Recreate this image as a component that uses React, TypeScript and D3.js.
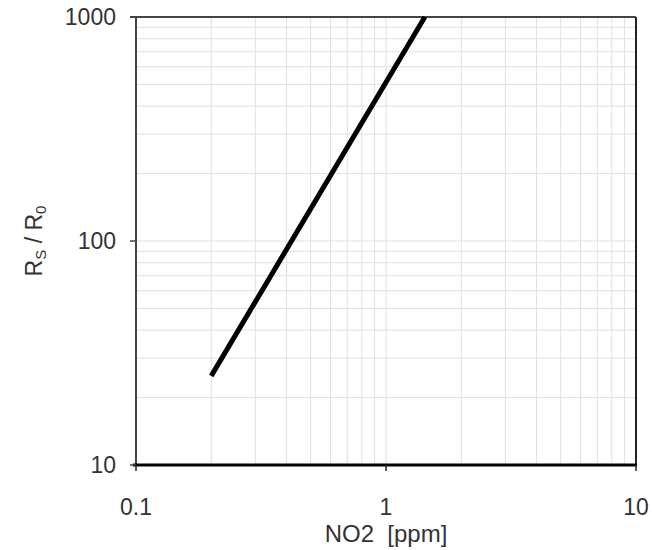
import React from "react";
import * as d3 from "d3";

const concentration = [0.2, 1.43];
const ratio = [25, 1000];
const xTickValues = [0.1, 1, 10];
const xTickLabels = ["0.1", "1", "10"];
const yTickValues = [10, 100, 1000];
const yTickLabels = ["10", "100", "1000"];

const W = 652, H = 550;
const M = { left: 136, right: 16, top: 17, bottom: 85 };

export default function App() {
  const x = d3.scaleLog().domain([0.1, 10]).range([M.left, W - M.right]);
  const y = d3.scaleLog().domain([10, 1000]).range([H - M.bottom, M.top]);
  const xMinor: number[] = [];
  const yMinor: number[] = [];
  [0.1, 1].forEach((d) => { for (let k = 2; k <= 9; k++) xMinor.push(d * k); });
  [10, 100].forEach((d) => { for (let k = 2; k <= 9; k++) yMinor.push(d * k); });
  const line = d3.line<number>().x((_, i) => x(concentration[i])).y((d) => y(d));
  const font = "'Liberation Sans', Arial, sans-serif";
  const x0 = x(0.1), x1 = x(10), y0 = y(10), y1 = y(1000);
  return (
    <svg width={W} height={H} style={{ position: "absolute", left: 0, top: 0 }} fontFamily={font}>
      <rect width={W} height={H} fill="#fff" />
      {xMinor.map((v) => (
        <line key={"xm" + v} x1={x(v)} x2={x(v)} y1={y1} y2={y0} stroke="#e0e0e0" strokeWidth={1} />
      ))}
      {yMinor.map((v) => (
        <line key={"ym" + v} x1={x0} x2={x1} y1={y(v)} y2={y(v)} stroke="#e0e0e0" strokeWidth={1} />
      ))}
      <line x1={x0} x2={x1} y1={y(100)} y2={y(100)} stroke="#e0e0e0" strokeWidth={1} />
      <line x1={x(1)} x2={x(1)} y1={y1} y2={y0} stroke="#e0e0e0" strokeWidth={1} />
      <line x1={x0} x2={x0} y1={y1} y2={y0} stroke="#444" strokeWidth={2} />
      <line x1={x1} x2={x1} y1={y1} y2={y0} stroke="#222" strokeWidth={2} />
      <line x1={x0 - 6} x2={x1} y1={y1} y2={y1} stroke="#444" strokeWidth={2} />
      <line x1={x0 - 3} x2={x1 + 1} y1={y0} y2={y0} stroke="#000" strokeWidth={3} />
      {yTickValues.map((v, i) => (
        <g key={"yt" + v}>
          <line x1={x0 - 6} x2={x0} y1={y(v)} y2={y(v)} stroke="#444" strokeWidth={1.5} />
          <text x={x0 - 20} y={y(v)} dy="0.36em" textAnchor="end" fontSize={23} fill="#333">
            {yTickLabels[i]}
          </text>
        </g>
      ))}
      {xTickValues.map((v, i) => (
        <g key={"xt" + v}>
          <line x1={x(v)} x2={x(v)} y1={y0} y2={y0 + 6} stroke="#222" strokeWidth={1.5} />
          <text x={x(v)} y={515} textAnchor="middle" fontSize={23} fill="#333">
            {xTickLabels[i]}
          </text>
        </g>
      ))}
      <text x={x(1)} y={542} textAnchor="middle" fontSize={24} fill="#333">
        NO2&#160;&#160;[ppm]
      </text>
      <text transform={`translate(42, ${(y0 + y1) / 2}) rotate(-90)`} textAnchor="middle" fontSize={23} fill="#333">
        R<tspan fontSize={15} dy="4">S</tspan><tspan dy="-4"> / R</tspan><tspan fontSize={15} dy="4">0</tspan>
      </text>
      <path d={line(ratio) || ""} fill="none" stroke="#000" strokeWidth={5} />
    </svg>
  );
}
